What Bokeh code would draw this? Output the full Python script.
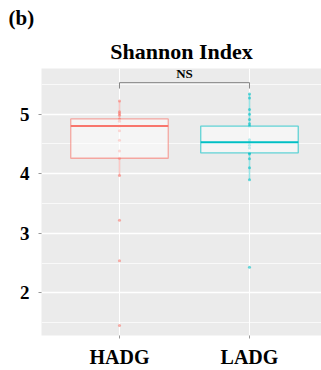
from bokeh.plotting import figure
from bokeh.models import FixedTicker, Range1d, Title
from bokeh.embed import file_html
from bokeh.resources import INLINE
from bokeh.core.properties import value

# ---- data ----
groups = ["HADG", "LADG"]
group_pos = [1, 2]
colors = ["#F8766D", "#00BFC4"]

hadg_values = [5.22, 5.04, 5.01, 4.98, 4.92, 4.88, 4.80, 4.72, 4.56, 4.38, 4.26, 3.97, 3.22, 2.54, 1.45]
ladg_values = [5.34, 5.27, 5.08, 5.00, 4.91, 4.84, 4.80, 4.57, 4.53, 4.48, 4.43, 4.35, 4.33, 4.25, 4.10, 3.90, 2.43]

q1 = [4.26, 4.35]
median = [4.80, 4.53]
q3 = [4.92, 4.80]
whisker_low = [3.97, 3.90]
whisker_high = [5.22, 5.34]

bracket_y = 5.53
bracket_tip = 5.43
sig_label = "NS"

y_ticks = [2, 3, 4, 5]
y_minor = [1.5, 2.5, 3.5, 4.5, 5.5]

SERIF = "Liberation Serif"
BOX_W = 0.75

p = figure(width=321, height=370, output_backend="svg", toolbar_location=None,
           x_range=Range1d(0.4, 2.554), y_range=Range1d(1.283, 5.767),
           min_border_left=41, min_border_right=0, min_border_top=68, min_border_bottom=33)

p.background_fill_color = "#EBEBEB"
p.border_fill_color = "white"
p.outline_line_color = None

# titles
p.add_layout(Title(text="Shannon Index", align="center", text_font=SERIF,
                   text_font_size="22px", text_font_style="bold", text_color="black",
                   standoff=9), "above")
p.add_layout(Title(text="(b)", align="left", offset=-33, text_font=SERIF,
                   text_font_size="21px", text_font_style="bold", text_color="black",
                   standoff=6), "above")

# axes
p.xaxis.ticker = FixedTicker(ticks=group_pos)
p.xaxis.major_label_overrides = {pos: g for pos, g in zip(group_pos, groups)}
p.yaxis.ticker = FixedTicker(ticks=y_ticks, minor_ticks=y_minor)
for ax in (p.xaxis[0], p.yaxis[0]):
    ax.axis_line_color = None
    ax.major_tick_out = 3
    ax.major_tick_in = 0
    ax.minor_tick_out = 0
    ax.minor_tick_in = 0
    ax.major_tick_line_color = "#999999"
    ax.major_label_text_font = SERIF
    ax.major_label_text_font_style = "bold"
    ax.major_label_text_color = "black"
p.xaxis.major_label_text_font_size = "20px"
p.xaxis.major_label_standoff = 7
p.yaxis.major_label_text_font_size = "19px"
p.yaxis.major_label_standoff = 9

p.xgrid.grid_line_color = "white"
p.xgrid.grid_line_width = 1
p.ygrid.grid_line_color = "white"
p.ygrid.grid_line_width = 1.3
p.ygrid.minor_grid_line_color = "white"
p.ygrid.minor_grid_line_width = 0.7

# points
all_values = [hadg_values, ladg_values]
for pos, vals, c in zip(group_pos, all_values, colors):
    p.scatter(x=[pos] * len(vals), y=vals, size=3, fill_color=c, line_color=None, fill_alpha=0.6)

# whiskers
p.segment(x0=group_pos, y0=q3, x1=group_pos, y1=whisker_high, line_color=colors, line_alpha=0.4, line_width=1.5)
p.segment(x0=group_pos, y0=q1, x1=group_pos, y1=whisker_low, line_color=colors, line_alpha=0.4, line_width=1.5)

# boxes
p.vbar(x=group_pos, width=BOX_W, top=q3, bottom=q1, fill_color="white", fill_alpha=0.5,
       line_color=colors, line_alpha=0.6, line_width=1.3)
p.segment(x0=[x - BOX_W / 2 for x in group_pos], y0=median,
          x1=[x + BOX_W / 2 for x in group_pos], y1=median,
          line_color=colors, line_width=2)

# significance bracket
p.line(x=[group_pos[0], group_pos[0], group_pos[1], group_pos[1]],
       y=[bracket_tip, bracket_y, bracket_y, bracket_tip], line_color="#888888", line_width=1)
p.text(x=[sum(group_pos) / 2], y=[bracket_y], text=[sig_label], text_font=value(SERIF),
       text_font_style="bold", text_font_size="13px", text_align="center",
       text_baseline="bottom", text_color="black", y_offset=-2)

open("out.html", "w").write(file_html(p, INLINE))
